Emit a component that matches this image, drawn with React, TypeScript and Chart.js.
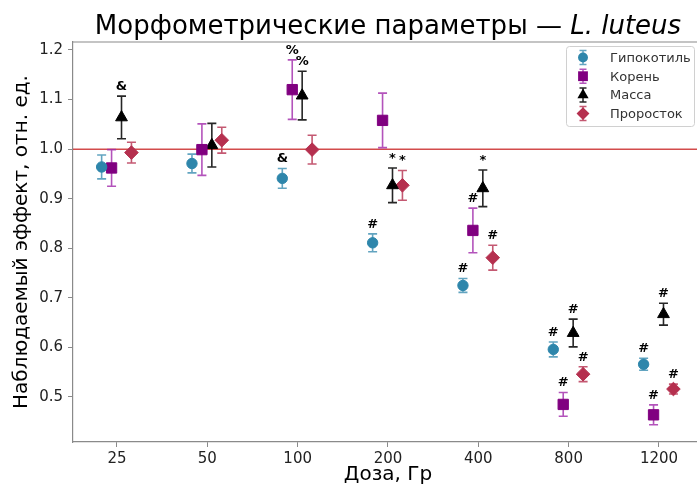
import React, { useEffect, useRef } from "react";
import { Chart, registerables } from "chart.js";

Chart.register(...registerables);

const categories = ["25", "50", "100", "200", "400", "800", "1200"];
const seriesNames = ["Гипокотиль", "Корень", "Масса", "Проросток"];

const hypocotylMean = [0.964, 0.971, 0.941, 0.811, 0.725, 0.596, 0.566];
const hypocotylErr = [0.024, 0.019, 0.02, 0.018, 0.014, 0.015, 0.012];
const rootMean = [0.962, 0.999, 1.12, 1.058, 0.836, 0.485, 0.464];
const rootErr = [0.037, 0.052, 0.06, 0.055, 0.045, 0.024, 0.02];
const massMean = [1.064, 1.008, 1.108, 0.927, 0.921, 0.629, 0.667];
const massErr = [0.043, 0.044, 0.049, 0.035, 0.037, 0.028, 0.022];
const sproutMean = [0.993, 1.018, 0.999, 0.927, 0.781, 0.546, 0.516];
const sproutErr = [0.021, 0.026, 0.029, 0.03, 0.025, 0.015, 0.01];

const hypocotylMarks = ["", "", "&", "#", "#", "#", "#"];
const rootMarks = ["", "", "%", "", "#", "#", "#"];
const massMarks = ["&", "", "%", "*", "*", "#", "#"];
const sproutMarks = ["", "", "", "*", "#", "#", "#"];

const yTicks = [0.5, 0.6, 0.7, 0.8, 0.9, 1.0, 1.1, 1.2];
const referenceLevel = 1.0;

const titleMain = "Морфометрические параметры — ";
const titleItalic = "L. luteus";
const xTitle = "Доза, Гр";
const yTitle = "Наблюдаемый эффект, отн. ед.";

const FONT = "'DejaVu Sans', sans-serif";

const series = [
  { name: seriesNames[0], mean: hypocotylMean, err: hypocotylErr, marks: hypocotylMarks, color: "#2E86AB", errColor: "rgba(46,134,171,0.75)", style: "circle", radius: 5.2, offset: -0.17 },
  { name: seriesNames[1], mean: rootMean, err: rootErr, marks: rootMarks, color: "#800080", errColor: "rgba(160,40,170,0.8)", style: "rect", radius: 7.3, offset: -0.06 },
  { name: seriesNames[2], mean: massMean, err: massErr, marks: massMarks, color: "#000000", errColor: "rgba(0,0,0,0.85)", style: "triangle", radius: 6.8, offset: 0.05 },
  { name: seriesNames[3], mean: sproutMean, err: sproutErr, marks: sproutMarks, color: "#B5304F", errColor: "rgba(181,48,79,0.8)", style: "rectRot", radius: 6.8, offset: 0.16 },
];

function drawMarker(ctx: CanvasRenderingContext2D, style: string, x: number, y: number, r: number) {
  ctx.beginPath();
  if (style === "circle") {
    ctx.arc(x, y, r, 0, Math.PI * 2);
  } else if (style === "rect") {
    const s = r * Math.SQRT1_2;
    ctx.rect(x - s, y - s, 2 * s, 2 * s);
  } else if (style === "triangle") {
    ctx.moveTo(x, y - r);
    ctx.lineTo(x + r * 0.866, y + r * 0.5);
    ctx.lineTo(x - r * 0.866, y + r * 0.5);
    ctx.closePath();
  } else {
    ctx.moveTo(x, y - r);
    ctx.lineTo(x + r, y);
    ctx.lineTo(x, y + r);
    ctx.lineTo(x - r, y);
    ctx.closePath();
  }
  ctx.fill();
}

const drawPlugin = {
  id: "customDraw",
  beforeDatasetsDraw(chart: any) {
    const { ctx, chartArea, scales } = chart;
    const x = scales.x;
    const y = scales.y;
    ctx.save();
    ctx.strokeStyle = "rgba(205,55,55,0.9)";
    ctx.lineWidth = 1.5;
    const ry = y.getPixelForValue(referenceLevel);
    ctx.beginPath();
    ctx.moveTo(chartArea.left, ry);
    ctx.lineTo(chartArea.right, ry);
    ctx.stroke();
    ctx.strokeStyle = "#8a8a8a";
    ctx.lineWidth = 1.2;
    ctx.beginPath();
    ctx.moveTo(chartArea.left, chartArea.top);
    ctx.lineTo(chartArea.right, chartArea.top);
    ctx.stroke();
    series.forEach((s) => {
      ctx.strokeStyle = s.errColor;
      ctx.lineWidth = 1.6;
      s.mean.forEach((m, i) => {
        const px = x.getPixelForValue(i + s.offset);
        const top = y.getPixelForValue(m + s.err[i]);
        const bot = y.getPixelForValue(m - s.err[i]);
        ctx.beginPath();
        ctx.moveTo(px, top);
        ctx.lineTo(px, bot);
        ctx.moveTo(px - 4.5, top);
        ctx.lineTo(px + 4.5, top);
        ctx.moveTo(px - 4.5, bot);
        ctx.lineTo(px + 4.5, bot);
        ctx.stroke();
      });
    });
    ctx.restore();
  },
  afterDatasetsDraw(chart: any) {
    const { ctx, scales } = chart;
    const x = scales.x;
    const y = scales.y;
    ctx.save();
    ctx.fillStyle = "#000";
    ctx.font = `bold 13px ${FONT}`;
    ctx.textAlign = "center";
    ctx.textBaseline = "bottom";
    series.forEach((s) => {
      s.mean.forEach((m, i) => {
        const mark = s.marks[i];
        if (!mark) return;
        const px = x.getPixelForValue(i + s.offset);
        const top = y.getPixelForValue(m + s.err[i]);
        ctx.fillText(mark, px, top - 3);
      });
    });
    ctx.restore();
  },
  afterDraw(chart: any) {
    const { ctx, chartArea, scales } = chart;
    const x = scales.x;
    ctx.save();
    const cx = x.getPixelForValue(3);
    ctx.fillStyle = "#000";
    ctx.textBaseline = "alphabetic";
    ctx.font = `26px ${FONT}`;
    const w1 = ctx.measureText(titleMain).width;
    ctx.font = `italic 26px ${FONT}`;
    const w2 = ctx.measureText(titleItalic).width;
    const start = cx - (w1 + w2) / 2;
    ctx.textAlign = "left";
    ctx.font = `26px ${FONT}`;
    ctx.fillText(titleMain, start, 34);
    ctx.font = `italic 26px ${FONT}`;
    ctx.fillText(titleItalic, start + w1, 34);
    ctx.font = `20px ${FONT}`;
    ctx.textAlign = "center";
    ctx.fillText(xTitle, cx, 480);
    ctx.save();
    ctx.translate(22, (chartArea.top + chartArea.bottom) / 2);
    ctx.rotate(-Math.PI / 2);
    ctx.textBaseline = "middle";
    ctx.fillText(yTitle, 0, 0);
    ctx.restore();
    const lx = 566, ly = 46, lw = 128, lh = 80;
    ctx.fillStyle = "rgba(255,255,255,0.85)";
    ctx.strokeStyle = "#d0d0d0";
    ctx.lineWidth = 1;
    ctx.beginPath();
    (ctx as any).roundRect(lx + 0.5, ly + 0.5, lw, lh, 3);
    ctx.fill();
    ctx.stroke();
    ctx.font = `13px ${FONT}`;
    ctx.textAlign = "left";
    ctx.textBaseline = "middle";
    series.forEach((s, k) => {
      const ry = 57.5 + k * 18.7;
      const mx = 583;
      ctx.strokeStyle = s.errColor;
      ctx.lineWidth = 1.5;
      ctx.beginPath();
      ctx.moveTo(mx, ry - 7);
      ctx.lineTo(mx, ry + 7);
      ctx.moveTo(mx - 3.5, ry - 7);
      ctx.lineTo(mx + 3.5, ry - 7);
      ctx.moveTo(mx - 3.5, ry + 7);
      ctx.lineTo(mx + 3.5, ry + 7);
      ctx.stroke();
      ctx.fillStyle = s.color;
      drawMarker(ctx, s.style, mx, ry, s.radius * 0.95);
      ctx.fillStyle = "#333";
      ctx.fillText(s.name, 610, ry + 1);
    });
    ctx.restore();
  },
};

export default function App() {
  const ref = useRef<HTMLCanvasElement>(null);
  useEffect(() => {
    document.body.style.margin = "0";
    const canvas = ref.current;
    if (!canvas) return;
    const chart = new Chart(canvas, {
      type: "scatter",
      data: {
        datasets: series.map((s) => ({
          label: s.name,
          data: s.mean.map((v, i) => ({ x: i + s.offset, y: v })),
          pointStyle: s.style as any,
          pointRadius: s.radius,
          pointHoverRadius: s.radius,
          backgroundColor: s.color,
          borderColor: s.color,
          borderWidth: 1,
        })),
      },
      options: {
        responsive: false,
        animation: false,
        layout: { autoPadding: false, padding: { top: 42, left: 0, right: 0, bottom: 0 } },
        plugins: {
          legend: { display: false },
          title: { display: false },
          tooltip: { enabled: false },
        },
        scales: {
          x: {
            type: "linear",
            min: -0.487,
            max: 6.421,
            afterBuildTicks: (scale: any) => {
              scale.ticks = categories.map((_, i) => ({ value: i }));
            },
            afterFit: (scale: any) => {
              scale.height = 48;
              scale.paddingLeft = 0;
              scale.paddingRight = 0;
            },
            ticks: {
              callback: (v: any) => categories[Math.round(Number(v))] ?? "",
              font: { family: FONT, size: 15 },
              color: "#222",
              padding: 3,
              maxRotation: 0,
              autoSkip: false,
            },
            grid: { display: true, drawOnChartArea: false, tickLength: 5, color: "#8a8a8a" },
            border: { display: true, color: "#8a8a8a", width: 1.2 },
          },
          y: {
            type: "linear",
            min: 0.4092,
            max: 1.2161,
            afterBuildTicks: (scale: any) => {
              scale.ticks = yTicks.map((v) => ({ value: v }));
            },
            afterFit: (scale: any) => {
              scale.width = 73;
              scale.paddingTop = 0;
              scale.paddingBottom = 0;
            },
            ticks: {
              callback: (v: any) => Number(v).toFixed(1),
              font: { family: FONT, size: 15 },
              color: "#222",
              padding: 5,
            },
            grid: { display: true, drawOnChartArea: false, tickLength: 5, color: "#8a8a8a" },
            border: { display: true, color: "#8a8a8a", width: 1.2 },
          },
        },
      },
      plugins: [drawPlugin],
    });
    return () => chart.destroy();
  }, []);
  return (
    <div style={{ width: 697, height: 490, position: "relative" }}>
      <canvas ref={ref} width={697} height={490} style={{ display: "block" }} />
    </div>
  );
}
